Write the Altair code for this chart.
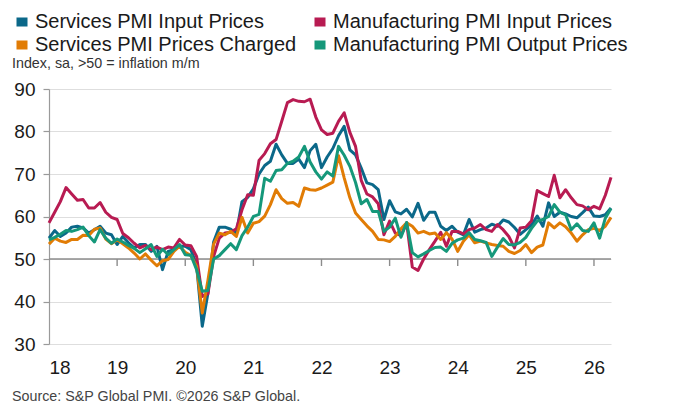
import altair as alt
import pandas as pd

# Monthly observations, Jan 2018 .. Apr 2026
start_year = 2018
series_names = [
    "Services PMI Input Prices",
    "Manufacturing PMI Input Prices",
    "Services PMI Prices Charged",
    "Manufacturing PMI Output Prices",
]
colors = ["#0B6889", "#B81B52", "#E17C05", "#15987A"]

services_input = [
    54.9, 56.7, 55.3, 56.1, 57.5, 57.7, 57.3, 56.1, 56.9, 57.7, 56.1, 55.7,
    53.4, 55.3, 53.8, 52.6, 53.4, 53.4, 51.8, 53.0, 47.5, 51.8, 52.2, 53.0,
    53.0, 52.2, 48.5, 34.2, 42.0, 54.0, 57.5, 57.5, 57.0, 56.0, 63.5, 64.5,
    66.5, 70.0, 72.0, 73.0, 77.0, 74.5, 72.5, 72.5, 73.5, 71.5, 75.5, 77.0,
    71.5, 74.0, 76.0, 79.0, 81.2, 75.7, 74.5, 71.4, 67.9, 67.5, 66.3, 59.3,
    63.7, 61.1, 60.6, 61.7, 59.9, 63.1, 59.1, 61.0, 61.0, 57.7, 56.7, 57.7,
    56.3, 55.7, 59.3, 56.3, 56.9, 57.3, 58.2, 57.7, 59.2, 58.7, 57.4, 55.8,
    56.9, 58.0, 60.1, 57.7, 63.2, 60.0, 61.0, 60.6, 60.0, 59.7, 60.9, 62.2,
    60.1, 60.0, 60.4, 62.0,
]
manufacturing_input = [
    58.5, 61.0, 63.5, 66.8, 65.3, 63.8, 64.0, 62.0, 62.0, 63.3, 61.0, 59.8,
    59.3, 56.0, 55.0, 53.7, 52.6, 53.2, 52.2, 52.8, 52.2, 52.8, 52.6, 54.6,
    53.3, 53.1, 50.6, 41.2, 41.8, 50.6, 54.9, 56.1, 56.3, 57.1, 61.6, 65.1,
    65.0, 73.2, 74.8, 77.1, 78.1, 82.4, 86.8, 87.5, 87.1, 87.0, 87.6, 83.4,
    80.4, 79.3, 79.6, 82.4, 84.4, 79.8, 76.5, 68.5, 65.3, 64.6, 63.0, 55.7,
    58.9, 56.1, 55.5, 58.5, 48.1, 47.3, 50.0, 52.2, 54.2, 56.3, 53.0, 56.5,
    56.5, 55.9, 56.9, 57.3, 58.1, 56.9, 56.5, 58.1, 56.9, 55.3, 52.6, 57.3,
    57.5, 59.0, 66.1, 65.4, 64.7, 69.7, 64.4, 66.3, 64.4, 62.8, 62.5, 61.6,
    62.4, 61.8, 65.0, 69.2,
]
services_charged = [
    53.5, 54.9, 54.2, 53.9, 54.6, 54.6, 55.6, 55.5, 57.0, 57.3, 54.7, 53.6,
    54.5, 53.6, 52.6, 51.4, 50.0, 51.2, 49.7, 48.4, 49.6, 49.9, 51.8, 53.0,
    51.6, 50.8, 48.3, 37.3, 45.0, 53.5, 56.1, 55.7, 56.5, 55.3, 59.8, 56.1,
    58.4, 58.8, 60.1, 62.8, 66.3, 64.2, 63.1, 63.3, 62.4, 66.7, 66.3, 66.2,
    66.7, 67.4, 68.1, 74.3, 69.1, 64.4, 60.8, 59.3, 57.8, 56.5, 54.6, 54.5,
    54.1, 55.3, 57.1, 58.5, 57.7, 56.1, 56.5, 55.9, 56.1, 54.6, 56.2, 54.7,
    51.8, 54.2, 55.7, 53.8, 54.2, 53.8, 53.4, 53.2, 53.0, 51.8, 51.3, 52.0,
    53.4, 51.5, 52.8, 53.3, 58.5, 57.3, 58.5, 57.6, 56.1, 54.2, 55.7, 56.9,
    57.2, 56.7, 57.7, 59.8,
]
manufacturing_output = [
    54.5, 55.1, 55.8, 56.7, 56.5, 56.9, 57.5, 55.5, 54.0, 56.9, 54.9, 53.7,
    54.7, 54.0, 53.2, 52.5, 51.5, 52.4, 53.4, 50.6, 52.3, 51.0, 52.2, 53.4,
    51.0, 50.9, 47.5, 42.4, 42.6, 50.0, 50.8, 52.2, 53.6, 52.2, 55.5, 57.5,
    60.0, 60.5, 69.0, 68.3, 70.8, 71.0, 72.5, 73.0, 74.0, 76.5, 72.8, 70.5,
    68.8, 70.5, 69.5, 76.5, 74.4, 71.8, 68.0, 63.0, 64.0, 61.2, 61.2, 56.5,
    57.5, 59.6, 55.1, 58.6, 51.5, 50.5, 51.2, 52.0, 52.7, 52.8, 51.8, 53.7,
    54.5, 54.9, 56.2, 54.6, 54.3, 53.9, 50.6, 52.8, 54.8, 53.4, 53.3, 53.9,
    55.1, 57.2, 58.9, 59.3, 60.0, 62.8, 61.0, 60.4, 56.9, 58.3, 56.7, 56.5,
    58.5, 54.9, 59.6, 61.9,
]
year_ticks = [2018, 2019, 2020, 2021, 2022, 2023, 2024, 2025, 2026]
y_ticks = [30, 40, 50, 60, 70, 80, 90]
subtitle = "Index, sa, >50 = inflation m/m"
source = "Source: S&P Global PMI. \u00a92026 S&P Global."

FONT = "Liberation Sans"
# filled-looking rectangle swatch built from stacked short strokes
SWATCH = "M-1,-0.6H1M-1,-0.3H1M-1,0H1M-1,0.3H1M-1,0.6H1"

rows = []
for name, vals in zip(series_names, [services_input, manufacturing_input,
                                     services_charged, manufacturing_output]):
    for i, v in enumerate(vals):
        rows.append({"series": name, "t": start_year + i / 12.0, "value": v,
                     "order": series_names.index(name)})
df = pd.DataFrame(rows)
x_max = start_year + (len(services_input) - 1) / 12.0

x_scale = alt.Scale(domain=[start_year, x_max], nice=False, zero=False)
y_scale = alt.Scale(domain=[30, 90], nice=False, zero=False)

base_axes = alt.Chart(df).mark_line(opacity=0).encode(
    x=alt.X("t:Q", scale=x_scale,
            axis=alt.Axis(values=year_ticks, title=None, grid=False, domain=False,
                          ticks=False, labelFontSize=19, labelFont=FONT,
                          labelColor="#1a1a1a", labelPadding=14,
                          labelExpr="substring(toString(datum.value), 2, 4)")),
    y=alt.Y("value:Q", scale=y_scale,
            axis=alt.Axis(values=y_ticks, title=None, grid=True,
                          gridColor="#DEDEDE", gridWidth=1.2, domain=True,
                          domainColor="#9a9a9a", domainWidth=1.2, ticks=True,
                          tickColor="#9a9a9a", tickSize=6, tickWidth=1.2,
                          labelFontSize=19, labelFont=FONT, labelColor="#1a1a1a",
                          labelPadding=8, format="d")),
)

zero_line = alt.Chart(pd.DataFrame({"v": [50]})).mark_rule(
    color="#8c8c8c", strokeWidth=1.6).encode(y=alt.Y("v:Q", scale=y_scale))

tick_df = pd.DataFrame({"t": year_ticks[1:], "v": [50] * (len(year_ticks) - 1)})
year_marks = alt.Chart(tick_df).mark_rule(
    color="#8c8c8c", strokeWidth=1.4, y2Offset=7).encode(
    x=alt.X("t:Q", scale=x_scale),
    y=alt.Y("v:Q", scale=y_scale),
    y2="v:Q",
)

lines = alt.Chart(df).mark_line(strokeWidth=3, strokeJoin="round").encode(
    x=alt.X("t:Q", scale=x_scale),
    y=alt.Y("value:Q", scale=y_scale),
    color=alt.Color("series:N", scale=alt.Scale(domain=series_names, range=colors),
                    sort=series_names,
                    legend=alt.Legend(orient="none", legendX=-37, legendY=-77,
                                      direction="horizontal", columns=2,
                                      title=None, symbolType=SWATCH,
                                      symbolSize=121, symbolStrokeWidth=2.2,
                                      labelFontSize=20, labelFont=FONT,
                                      labelColor="#1a1a1a", labelOffset=3,
                                      columnPadding=13, rowPadding=3,
                                      labelLimit=400)),
    order="order:Q",
    detail="series:N",
)

sub = alt.Chart(pd.DataFrame({"txt": [subtitle]})).mark_text(
    align="left", baseline="middle", fontSize=14.3, font=FONT, color="#333333").encode(
    text="txt:N", x=alt.value(-37), y=alt.value(-25))

src = alt.Chart(pd.DataFrame({"txt": [source]})).mark_text(
    align="left", baseline="middle", fontSize=14.3, font=FONT, color="#444444").encode(
    text="txt:N", x=alt.value(-37), y=alt.value(308))

chart = alt.layer(base_axes, zero_line, year_marks, lines, sub, src).properties(
    width=562, height=255,
    autosize=alt.AutoSizeParams(type="none"),
    padding={"left": 49, "top": 89, "right": 62, "bottom": 70},
    background="white",
).configure_view(stroke=None)

chart.save("out.html", embed_options={"renderer": "svg", "actions": False})
